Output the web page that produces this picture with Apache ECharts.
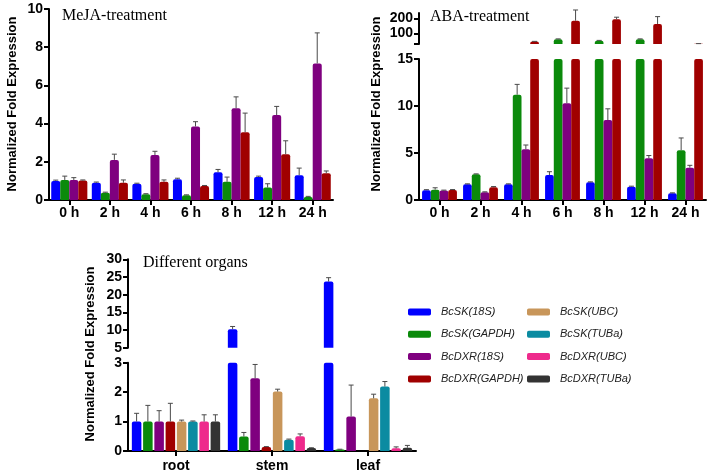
<!DOCTYPE html>
<html>
<head>
<meta charset="utf-8">
<script src="https://cdn.jsdelivr.net/npm/echarts@6/dist/echarts.min.js"></script>
<style>html,body{margin:0;padding:0;background:#fff;}#c{width:708px;height:475px;}</style>
</head>
<body>
<div id="c"></div>
<script>
// ---------- data ----------
const geneNames = ['BcSK(18S)','BcSK(GAPDH)','BcDXR(18S)','BcDXR(GAPDH)','BcSK(UBC)','BcSK(TUBa)','BcDXR(UBC)','BcDXR(TUBa)'];
const geneColors = ['#0000ff','#0b8a0b','#7f007f','#a00000','#c8965a','#0b8ba1','#ee2a8c','#333333'];

// MeJA-treatment
const timeCats = ['0 h','2 h','4 h','6 h','8 h','12 h','24 h'];
const mejaSK18S      = [1.0, 0.9, 0.85, 1.08, 1.45, 1.2, 1.3];
const mejaSK18SErr   = [0.04, 0.04, 0.03, 0.06, 0.15, 0.05, 0.37];
const mejaSKGAPDH    = [1.05, 0.38, 0.3, 0.25, 0.95, 0.65, 0.16];
const mejaSKGAPDHErr = [0.2, 0.03, 0.03, 0.02, 0.25, 0.2, 0.03];
const mejaDXR18S     = [1.05, 2.1, 2.35, 3.85, 4.8, 4.45, 7.15];
const mejaDXR18SErr  = [0.12, 0.3, 0.2, 0.25, 0.6, 0.45, 1.6];
const mejaDXRGAPDH   = [1.02, 0.9, 0.95, 0.73, 3.55, 2.4, 1.4];
const mejaDXRGAPDHErr= [0.03, 0.15, 0.1, 0.03, 1.0, 0.7, 0.12];

// ABA-treatment
const abaSK18S       = [1.05, 1.67, 1.67, 2.66, 1.88, 1.42, 0.71];
const abaSK18SErr    = [0.05, 0.05, 0.05, 0.35, 0.05, 0.05, 0.05];
const abaSKGAPDH     = [1.1, 2.73, 11.2, 60, 51, 60, 5.3];
const abaSKGAPDHErr  = [0.2, 0.05, 1.1, 3, 2, 3, 1.3];
const abaDXR18S      = [1.0, 0.82, 5.4, 10.3, 8.5, 4.43, 3.44];
const abaDXR18SErr   = [0.05, 0.05, 0.45, 1.6, 1.2, 0.3, 0.25];
const abaDXRGAPDH    = [1.06, 1.35, 45, 184, 193, 162, 31];
const abaDXRGAPDHErr = [0.05, 0.08, 1.5, 71, 14, 49, 0.5];

// Different organs
const organCats = ['root','stem','leaf'];
const orgSK18S       = [1.0, 10.2, 23.7];
const orgSK18SErr    = [0.28, 0.8, 1.1];
const orgSKGAPDH     = [1.0, 0.49, 0.05];
const orgSKGAPDHErr  = [0.55, 0.14, 0.01];
const orgDXR18S      = [1.0, 2.47, 1.17];
const orgDXR18SErr   = [0.37, 0.47, 1.07];
const orgDXRGAPDH    = [1.0, 0.14, 0];
const orgDXRGAPDHErr = [0.62, 0.01, 0];
const orgSKUBC       = [1.0, 2.02, 1.79];
const orgSKUBCErr    = [0.05, 0.08, 0.14];
const orgSKTUBa      = [1.0, 0.385, 2.19];
const orgSKTUBaErr   = [0.02, 0.02, 0.17];
const orgDXRUBC      = [1.0, 0.5, 0.09];
const orgDXRUBCErr   = [0.23, 0.08, 0.05];
const orgDXRTUBa     = [1.0, 0.1, 0.11];
const orgDXRTUBaErr  = [0.23, 0.01, 0.08];

// y-axis tick labels
const mejaTicks = [0, 10, 2];         // min, max, interval
const abaLowTicks = [0, 15, 5];
const abaHighLabels = [100, 200];
const orgLowTicks = [0, 3, 1];
const orgHighTicks = [5, 30, 5];

// ---------- build ----------
const FONT = 'Liberation Sans, Arial, sans-serif';
const SERIF = 'Liberation Serif, Times New Roman, serif';

const grids = [
  {left: 49, top: 9, width: 284, height: 191},      // 0 MeJA
  {left: 419, top: 13, width: 287, height: 31},     // 1 ABA upper
  {left: 419, top: 59, width: 287, height: 141},    // 2 ABA lower
  {left: 128, top: 259.3, width: 288, height: 88.4},// 3 organs upper
  {left: 128, top: 362.7, width: 288, height: 88.3} // 4 organs lower
];

const axisLineStyle = {color: '#000', width: 2};
function xAxis(gi, cats, show, margin) {
  return {
    type: 'category', gridIndex: gi, data: cats, show: show,
    axisLine: {show: show, lineStyle: axisLineStyle},
    axisTick: {show: show, alignWithLabel: true, length: 5, lineStyle: {width: 2, color: '#000'}},
    axisLabel: {show: show, margin: margin, color: '#000', fontFamily: FONT, fontWeight: 'bold', fontSize: 14}
  };
}
function yAxis(gi, min, max, interval, extra) {
  const a = {
    type: 'value', gridIndex: gi, min: min, max: max, interval: interval,
    splitLine: {show: false},
    axisLine: {show: true, lineStyle: axisLineStyle},
    axisTick: {show: true, length: 5, lineStyle: {width: 2, color: '#000'}},
    axisLabel: {margin: 6, color: '#000', fontFamily: FONT, fontWeight: 'bold', fontSize: 14}
  };
  return Object.assign(a, extra || {});
}

const xAxes = [
  xAxis(0, timeCats, true, 6),
  xAxis(1, timeCats, false, 6),
  xAxis(2, timeCats, true, 6),
  xAxis(3, organCats, false, 8),
  xAxis(4, organCats, true, 8)
];
const yAxes = [
  yAxis(0, mejaTicks[0], mejaTicks[1], mejaTicks[2]),
  yAxis(1, 29, 235, null, {
    axisTick: {show: true, length: 5, lineStyle: {width: 2, color: '#000'}, customValues: [29, 100, 200]},
    axisLabel: {margin: 6, color: '#000', fontFamily: FONT, fontWeight: 'bold', fontSize: 14, customValues: abaHighLabels}
  }),
  yAxis(2, abaLowTicks[0], abaLowTicks[1], abaLowTicks[2]),
  yAxis(3, orgHighTicks[0], orgHighTicks[1], orgHighTicks[2]),
  yAxis(4, orgLowTicks[0], orgLowTicks[1], orgLowTicks[2])
];

const series = [];
function addPanel(axisIdx, vals, errs, catGap, barGap, yMin, yMax) {
  const n = vals.length;
  vals.forEach(function (v, k) {
    series.push({
      type: 'bar', name: geneNames[k], xAxisIndex: axisIdx, yAxisIndex: axisIdx,
      data: v, barCategoryGap: (catGap * 100) + '%', barGap: (barGap * 100) + '%',
      clip: true,
      itemStyle: {color: geneColors[k], borderRadius: [2, 2, 0, 0]},
      silent: true
    });
  });
  vals.forEach(function (v, k) {
    series.push({
      type: 'custom', xAxisIndex: axisIdx, yAxisIndex: axisIdx, silent: true, z: 3,
      encode: {x: 0, y: 1},
      data: v.map(function (val, i) { return [i, val, errs[k][i]]; }),
      renderItem: function (params, api) {
        const cat = api.value(0), val = api.value(1), e = api.value(2);
        if (!(e > 0) || val < yMin || val > yMax) return null;
        const W = api.size([1, 0])[0];
        const bw = W * (1 - catGap) / (n + (n - 1) * barGap);
        const total = n * bw + (n - 1) * bw * barGap;
        const center = api.coord([cat, yMin])[0];
        const cx = center - total / 2 + k * bw * (1 + barGap) + bw / 2;
        const base = api.coord([cat, val])[1];
        const top = api.coord([cat, val + e])[1];
        const st = {stroke: '#4a4a4a', lineWidth: 1};
        return {type: 'group', children: [
          {type: 'line', shape: {x1: cx, y1: base, x2: cx, y2: top}, style: st},
          {type: 'line', shape: {x1: cx - 2.5, y1: top, x2: cx + 2.5, y2: top}, style: st}
        ]};
      }
    });
  });
}

const mejaVals = [mejaSK18S, mejaSKGAPDH, mejaDXR18S, mejaDXRGAPDH];
const mejaErrs = [mejaSK18SErr, mejaSKGAPDHErr, mejaDXR18SErr, mejaDXRGAPDHErr];
const abaVals = [abaSK18S, abaSKGAPDH, abaDXR18S, abaDXRGAPDH];
const abaErrs = [abaSK18SErr, abaSKGAPDHErr, abaDXR18SErr, abaDXRGAPDHErr];
const orgVals = [orgSK18S, orgSKGAPDH, orgDXR18S, orgDXRGAPDH, orgSKUBC, orgSKTUBa, orgDXRUBC, orgDXRTUBa];
const orgErrs = [orgSK18SErr, orgSKGAPDHErr, orgDXR18SErr, orgDXRGAPDHErr, orgSKUBCErr, orgSKTUBaErr, orgDXRUBCErr, orgDXRTUBaErr];

addPanel(0, mejaVals, mejaErrs, 0.11, 0, 0, 10);
addPanel(1, abaVals, abaErrs, 0.15, 0, 29, 235);
addPanel(2, abaVals, abaErrs, 0.15, 0, 0, 15);
addPanel(3, orgVals, orgErrs, 0.08, 0.18, 5, 30);
addPanel(4, orgVals, orgErrs, 0.08, 0.18, 0, 3);

const legendText = {fontFamily: FONT, fontStyle: 'italic', fontSize: 11, color: '#222', lineHeight: 14, padding: [0, 0, 0, 5]};
const legends = [
  {data: geneNames.slice(0, 4), left: 408, top: 305, orient: 'vertical', icon: 'roundRect', itemWidth: 23, itemHeight: 7, itemGap: 8.3, textStyle: legendText, selectedMode: false, padding: 0},
  {data: geneNames.slice(4, 8), left: 527, top: 305, orient: 'vertical', icon: 'roundRect', itemWidth: 23, itemHeight: 7, itemGap: 8.3, textStyle: legendText, selectedMode: false, padding: 0}
];

function txt(x, y, text, font, align, rot) {
  return {type: 'text', x: x, y: y, rotation: rot || 0, silent: true,
    style: {text: text, font: font, fill: '#000', align: align || 'left', verticalAlign: 'middle'}};
}
const graphics = [
  txt(62, 16, 'MeJA-treatment', '16px ' + SERIF),
  txt(430, 17, 'ABA-treatment', '16px ' + SERIF),
  txt(143, 263, 'Different organs', '16px ' + SERIF),
  txt(12, 104, 'Normalized Fold Expression', 'bold 13px ' + FONT, 'center', Math.PI / 2),
  txt(376, 104, 'Normalized Fold Expression', 'bold 13px ' + FONT, 'center', Math.PI / 2),
  txt(90, 354, 'Normalized Fold Expression', 'bold 13px ' + FONT, 'center', Math.PI / 2)
];

const chart = echarts.init(document.getElementById('c'), null, {renderer: 'canvas'});
chart.setOption({
  animation: false,
  backgroundColor: '#fff',
  grid: grids,
  xAxis: xAxes,
  yAxis: yAxes,
  series: series,
  legend: legends,
  graphic: graphics
});
</script>
</body>
</html>
